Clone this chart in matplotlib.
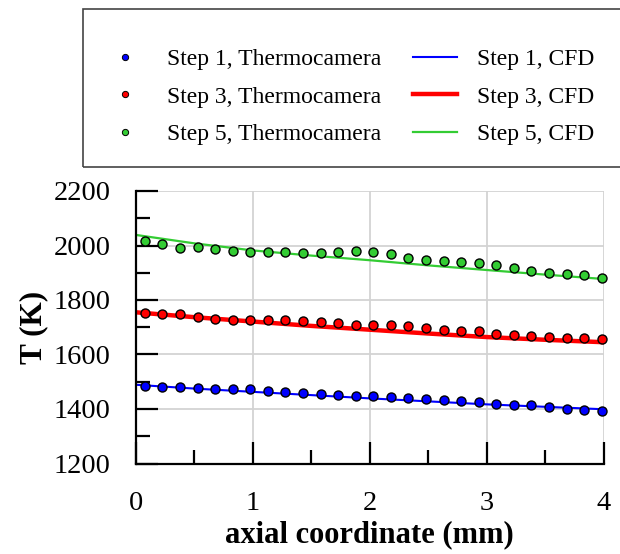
import matplotlib
matplotlib.use("Agg")
import matplotlib.pyplot as plt
from matplotlib.lines import Line2D
from matplotlib.patches import Rectangle
from matplotlib.ticker import MultipleLocator

plt.rcParams['font.family'] = ['Liberation Serif', 'DejaVu Serif']

# measurement positions (mm)
x_meas = [0.08 + 0.15 * i for i in range(27)]
t1_meas = [1484, 1480, 1480, 1476, 1472, 1472, 1472, 1467, 1463, 1459, 1456, 1452, 1449, 1449,
           1445, 1440, 1437, 1433, 1429, 1426, 1417, 1413, 1413, 1409, 1400, 1396, 1393]
t3_meas = [1752, 1747, 1747, 1739, 1731, 1727, 1727, 1727, 1727, 1724, 1719, 1714, 1710, 1707,
           1707, 1703, 1699, 1691, 1687, 1685, 1674, 1672, 1667, 1663, 1659, 1659, 1656]
t5_meas = [2016, 2004, 1991, 1993, 1988, 1979, 1976, 1976, 1976, 1972, 1972, 1976, 1979, 1976,
           1967, 1955, 1946, 1943, 1938, 1934, 1927, 1917, 1907, 1900, 1896, 1893, 1879]

# CFD profiles
x_cfd = [0, 0.5, 1, 1.5, 2, 2.5, 3, 3.5, 4]
t1_cfd = [1489, 1475, 1463, 1451, 1439, 1428, 1417, 1408, 1399]
t3_cfd = [1755, 1737, 1721, 1705, 1691, 1677, 1664, 1654, 1645]
t5_cfd = [2039, 2008, 1982, 1963, 1946, 1927, 1910, 1893, 1877]

labels_meas = ["Step 1, Thermocamera", "Step 3, Thermocamera", "Step 5, Thermocamera"]
labels_cfd = ["Step 1, CFD", "Step 3, CFD", "Step 5, CFD"]

blue, red, green = '#0000ff', '#ff0000', '#33cc33'

fig = plt.figure(figsize=(6.2, 5.54), dpi=100)
W, H = 620, 554
ax = fig.add_axes([135.5 / W, 1 - 463.5 / H, (604 - 135.5) / W, (463.5 - 191) / H])

ax.plot(x_cfd, t1_cfd, color=blue, lw=1.5, zorder=3)
ax.plot(x_cfd, t3_cfd, color=red, lw=3.2, zorder=3)
ax.plot(x_cfd, t5_cfd, color=green, lw=1.6, zorder=3)
for t, c in [(t1_meas, blue), (t3_meas, red), (t5_meas, green)]:
    ax.plot(x_meas, t, ls='none', marker='o', ms=6.5, mfc=c, mec='black', mew=1.0,
            zorder=4, clip_on=False)

ax.set_xlim(0, 4)
ax.set_ylim(1200, 2200)
ax.xaxis.set_major_locator(MultipleLocator(1))
ax.xaxis.set_minor_locator(MultipleLocator(0.5))
ax.yaxis.set_major_locator(MultipleLocator(200))
ax.yaxis.set_minor_locator(MultipleLocator(100))
ax.grid(True, which='major', color='#d3d3d3', lw=1.3, zorder=0)
ax.set_axisbelow(True)
for s in ['top', 'right']:
    ax.spines[s].set_visible(False)
for s in ['left', 'bottom']:
    ax.spines[s].set_linewidth(1.6)
    ax.spines[s].set_zorder(5)
ax.tick_params(which='major', direction='in', length=16, width=1.6, labelsize=20.5)
ax.tick_params(which='minor', direction='in', length=10, width=1.6)
ax.tick_params(axis='y', which='major', pad=18)
ax.tick_params(axis='x', which='major', pad=19.5)
ax.set_xlabel('axial coordinate (mm)', fontsize=22, fontweight='bold', labelpad=3)
ax.set_ylabel('T (K)', fontsize=22.5, fontweight='bold', labelpad=4)

# legend frame
fig.patches.append(Rectangle((83 / W, 1 - 167 / H), (640 - 83) / W, (167 - 9) / H,
                             transform=fig.transFigure, fill=False, ec='#444444', lw=1.2))
handles = [Line2D([], [], ls='none', marker='o', ms=4.5, mfc=c, mec='black', mew=0.7)
           for c in (blue, red, green)]
handles += [Line2D([], [], color=blue, lw=1.5), Line2D([], [], color=red, lw=3.2),
            Line2D([], [], color=green, lw=1.6)]
fig.legend(handles, labels_meas + labels_cfd, ncol=2, frameon=False, fontsize=17,
           loc='upper left', bbox_to_anchor=(103 / W, 1 - 48.5 / H), borderpad=0,
           borderaxespad=0, handlelength=1.86, handletextpad=0.85, columnspacing=1.36,
           labelspacing=0.68)

fig.savefig('out.png', dpi=100)
